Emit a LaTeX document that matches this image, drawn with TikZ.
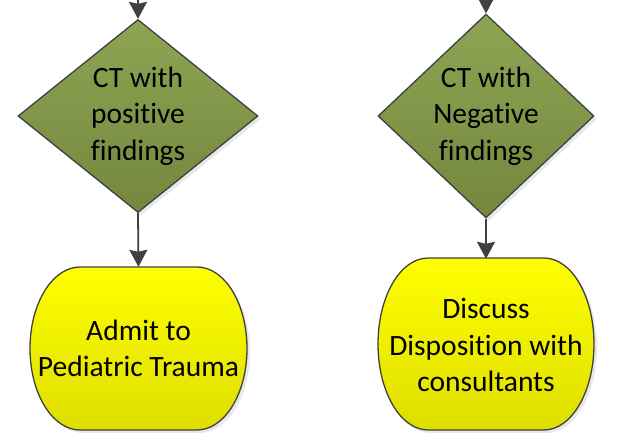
\documentclass[tikz,border=0pt]{standalone}
\usepackage{fontspec}
\setmainfont{Carlito}[Ligatures={NoCommon}]
\usetikzlibrary{shapes.geometric,arrows.meta,shadows,backgrounds}
\definecolor{edgegray}{HTML}{404040}
\definecolor{olivetop}{HTML}{8DA553}
\definecolor{olivebot}{HTML}{74873E}
\definecolor{yeltop}{HTML}{FFFF00}
\definecolor{yelbot}{HTML}{DEDE00}
\tikzset{
  decision/.style={diamond, draw=edgegray, line width=1.3pt, inner sep=0pt,
    top color=olivetop, bottom color=olivebot, align=center,
    font=\fontsize{29.5}{36.5}\selectfont,
    drop shadow={opacity=0.18, shadow xshift=3pt, shadow yshift=-3pt}},
  endtext/.style={align=center, inner sep=0pt, font=\fontsize{29.5}{36.5}\selectfont},
  endshape/.style={draw=edgegray, line width=1.3pt, top color=yeltop, bottom color=yelbot,
    drop shadow={opacity=0.18, shadow xshift=3pt, shadow yshift=-3pt}},
  flow/.style={draw=edgegray, line width=1.8pt, -{Stealth[length=17pt,width=18pt,inset=2pt]}}
}
\begin{document}
\begin{tikzpicture}[x=1pt,y=1pt]
\useasboundingbox (0,0) rectangle (634,432);
% decisions
\node[decision, minimum width=240pt, minimum height=191pt] (d1) at (138,316) {CT with\\positive\\findings};
\node[decision, minimum width=216pt, minimum height=191pt] (d2) at (486,316) {CT with\\Negative\\findings};
% end shapes (text nodes)
\node[endtext, minimum width=217pt, minimum height=163pt] (e1) at (138.5,83.5) {Admit to\\Pediatric Trauma};
\node[endtext, minimum width=216pt, minimum height=172pt] (e2) at (486,87) {Discuss\\Disposition with\\consultants};
\begin{scope}[on background layer]
\path[endshape] (80,165) -- (197,165)
  arc[start angle=90,end angle=-90,x radius=50pt,y radius=81.5pt] -- (80,2)
  arc[start angle=270,end angle=90,x radius=50pt,y radius=81.5pt] -- cycle;
\path[endshape] (428,174) -- (544,174)
  arc[start angle=90,end angle=-90,x radius=50pt,y radius=86pt] -- (428,2)
  arc[start angle=270,end angle=90,x radius=50pt,y radius=86pt] -- cycle;
\end{scope}
% connectors
\coordinate (t1) at (138,434);
\coordinate (t2) at (486,434);
\draw[flow] (t1) -- (d1.north);
\draw[flow] (t2) -- (d2.north);
\draw[flow] (d1.south) -- (e1.north);
\draw[flow] (d2.south) -- (e2.north);
\end{tikzpicture}
\end{document}
